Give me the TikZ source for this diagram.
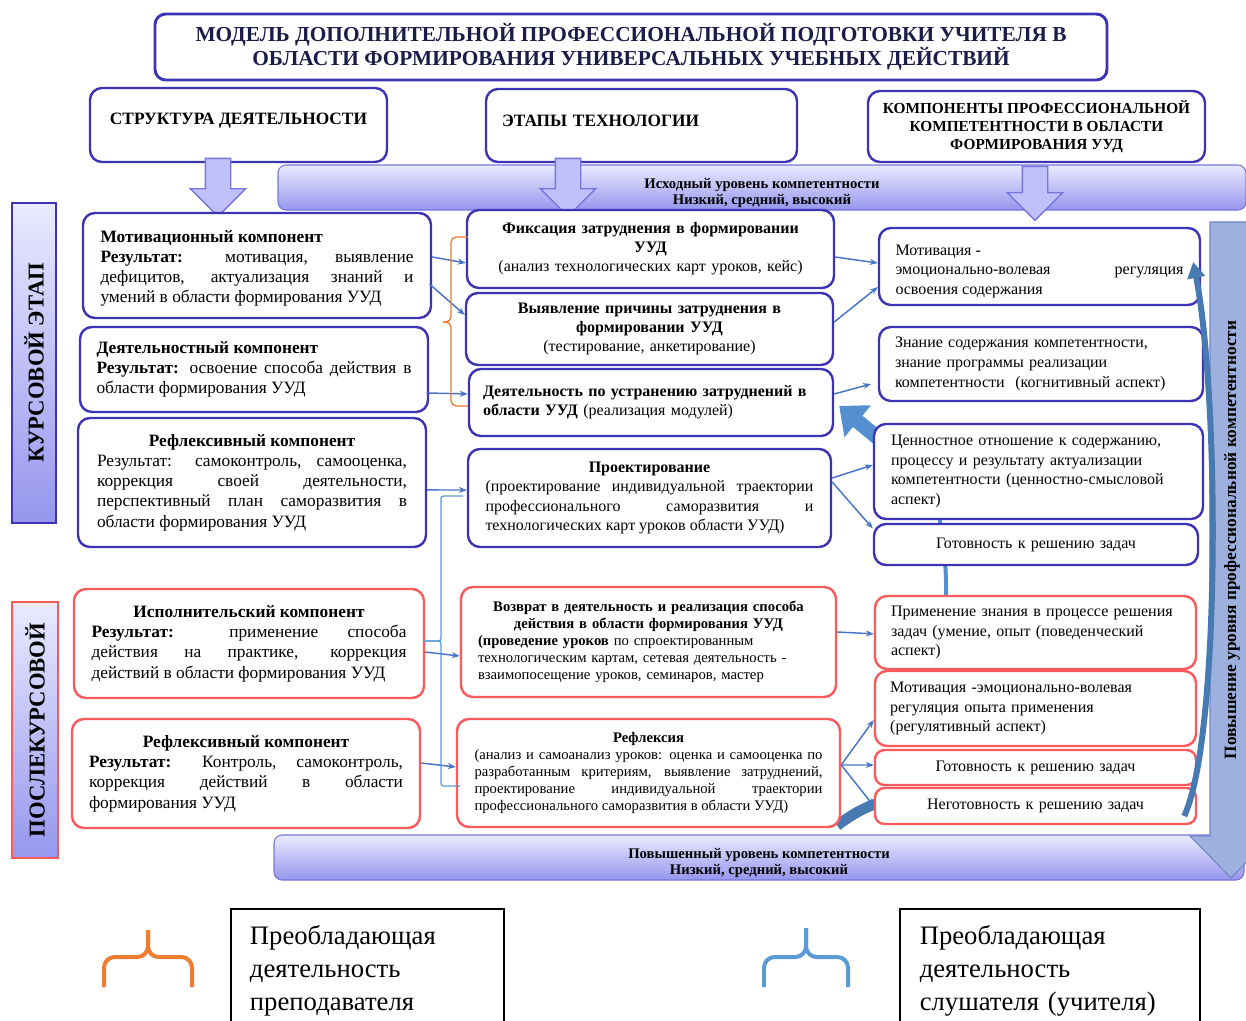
\documentclass[tikz,border=0pt]{standalone}
\usepackage{fontspec}
\setmainfont{Liberation Serif}
\usepackage{graphicx}
\usetikzlibrary{arrows.meta,shapes.arrows}
\pgfdeclarelayer{background}
\pgfsetlayers{background,main}
\setlength{\parindent}{0pt}
\tolerance=9999
\hbadness=10000
\hfuzz=2pt
\newcommand\headline[1]{\leavevmode\hbox to\hsize{\hss\textbf{#1}\hss}}

\definecolor{boxblue}{RGB}{60,52,180}
\definecolor{boxred}{RGB}{250,90,92}
\definecolor{lavlight}{RGB}{234,234,255}
\definecolor{lavdark}{RGB}{150,150,238}
\definecolor{lavfill}{RGB}{192,192,250}
\definecolor{lavline}{RGB}{118,118,222}
\definecolor{linkblue}{RGB}{70,116,200}
\definecolor{braceorange}{RGB}{237,125,49}
\definecolor{braceblue}{RGB}{91,155,213}
\definecolor{barblue}{RGB}{158,176,222}
\definecolor{barline}{RGB}{112,134,196}
\definecolor{swooshblue}{RGB}{72,122,178}
\definecolor{broadblue}{RGB}{84,144,208}
\definecolor{titlenavy}{RGB}{28,28,72}

\tikzset{
  roundbox/.style={line width=1.8pt, rounded corners=9pt, fill=white, inner sep=0pt},
  bluebox/.style={roundbox, draw=boxblue},
  redbox/.style={roundbox, draw=boxred},
  boxsize/.style n args={3}{minimum width=#1pt, minimum height=#2pt, text width=#3pt},
  leftfont/.style={font=\fontsize{13}{15.2}\selectfont},
  midfont/.style={font=\fontsize{12}{14.3}\selectfont},
  smallfont/.style={font=\fontsize{11}{12.75}\selectfont},
  rightfont/.style={font=\fontsize{12}{14.8}\selectfont},
  headbox/.style={bluebox, font=\bfseries\fontsize{13}{15}\selectfont},
  lavband/.style={draw=lavline, line width=0.8pt, rounded corners=6pt, top color=lavlight, bottom color=lavdark, inner sep=0pt, align=center, text height=27.5pt, font=\bfseries\fontsize{11}{12}\selectfont},
  stagebar/.style={line width=1.2pt, top color=lavlight, bottom color=lavdark, inner sep=0pt, font=\bfseries\fontsize{17}{17}\selectfont},
  downarrow/.style={single arrow, rotate=-90, draw=lavline, fill=lavfill, line width=1pt, inner xsep=0pt, inner ysep=9pt, single arrow head extend=11.25pt},
  link/.style={->, draw=linkblue, line width=1.1pt},
  broad/.style={draw=broadblue},
  swoosh/.style={draw=swooshblue, fill=none},
  legbrace/.style={line width=3pt, rounded corners=8pt},
  legbox/.style={draw=black, line width=1.2pt, anchor=north west, minimum height=93pt, align=left, inner sep=0pt, font=\fontsize{20}{24.75}\selectfont},
}

\begin{document}
\begin{tikzpicture}[x=0.75pt, y=-0.75pt, >={Stealth[length=6pt,width=4.5pt]}]
\useasboundingbox (0,0) rectangle (1246,1021);

% heading and column headers
\node[bluebox, line width=2.2pt, rounded corners=8pt, minimum width=714pt, minimum height=49.5pt, align=center, text=titlenavy, font=\bfseries\fontsize{16}{18}\selectfont] (title) at (631,47)
  {МОДЕЛЬ ДОПОЛНИТЕЛЬНОЙ ПРОФЕССИОНАЛЬНОЙ ПОДГОТОВКИ УЧИТЕЛЯ В\\ОБЛАСТИ ФОРМИРОВАНИЯ УНИВЕРСАЛЬНЫХ УЧЕБНЫХ ДЕЙСТВИЙ};
\node[headbox, minimum width=222.75pt, minimum height=55.5pt, text depth=10pt] (hStruct) at (238.5,125) {СТРУКТУРА ДЕЯТЕЛЬНОСТИ};
\node[headbox, minimum width=233.25pt, minimum height=54.75pt, text width=209pt, align=left, text depth=7pt] (hStage) at (641.5,125.5) {ЭТАПЫ ТЕХНОЛОГИИ};
\node[headbox, minimum width=252.75pt, minimum height=53.25pt, align=center, font=\bfseries\fontsize{11.5}{13.5}\selectfont] (hComp) at (1036.5,126.5)
  {КОМПОНЕНТЫ ПРОФЕССИОНАЛЬНОЙ\\КОМПЕТЕНТНОСТИ В ОБЛАСТИ\\ФОРМИРОВАНИЯ УУД};

% level bands and stage bars
\node[lavband, minimum width=726pt, minimum height=33.75pt] (levelIn) at (762,187.5) {Исходный уровень компетентности\\Низкий, средний, высокий};
\node[lavband, minimum width=727.5pt, minimum height=33.75pt] (levelOut) at (759,857.5) {Повышенный уровень компетентности\\Низкий, средний, высокий};
\node[stagebar, draw=boxblue, minimum width=33pt, minimum height=240pt] (stCourse) at (34,363) {\rotatebox{90}{КУРСОВОЙ ЭТАП}};
\node[stagebar, draw=boxred, minimum width=34.5pt, minimum height=192pt] (stPost) at (35,730) {\rotatebox{90}{ПОСЛЕКУРСОВОЙ}};

% growth bar on the right
\path[draw=barline, fill=barblue, line width=0.8pt] (1210,222) -- (1252,222) -- (1252,836) -- (1272,836) -- (1231,878) -- (1190,836) -- (1210,836) -- cycle;
\node[font=\bfseries\fontsize{13}{13}\selectfont] (growText) at (1232,540) {\rotatebox{90}{Повышение уровня профессиональной компетентности}};

% block arrows under the headers
\node[downarrow, minimum height=43.5pt] (arrStruct) at (218,181) {};
\node[downarrow, minimum height=43.5pt] (arrStage) at (568,181) {};
\node[downarrow, minimum height=40.5pt] (arrComp) at (1035,187) {};

% structure of activity
\node[bluebox, leftfont, boxsize={261}{78.75}{234.75}, align=justify, text depth=44pt] (cMot) at (257,265.5)
  {\textbf{Мотивационный компонент}\\\textbf{Результат:} мотивация, выявление\linebreak дефицитов, актуализация знаний и\linebreak умений в области формирования УУД};
\node[bluebox, leftfont, boxsize={261}{63.75}{236.25}, align=justify] (cAct) at (254,369.5)
  {\textbf{Деятельностный компонент}\\\textbf{Результат:} освоение способа действия в\linebreak области формирования УУД};
\node[bluebox, leftfont, boxsize={261}{96.75}{232.5}, align=justify] (cRefl) at (252,482.5)
  {\headline{Рефлексивный компонент}\\ Результат: самоконтроль, самооценка,\linebreak коррекция своей деятельности,\linebreak перспективный план саморазвития в\linebreak области формирования УУД};
\node[redbox, leftfont, boxsize={262.5}{81.75}{236.25}, align=justify] (cExec) at (249,643.5)
  {\headline{Исполнительский компонент}\\ \textbf{Результат:} применение способа\linebreak действия на практике, коррекция\linebreak действий в области формирования УУД};
\node[redbox, leftfont, boxsize={261}{81.75}{235.5}, align=justify] (cRefl2) at (246,773.5)
  {\headline{Рефлексивный компонент}\\ \textbf{Результат:} Контроль, самоконтроль,\linebreak коррекция действий в области\linebreak формирования УУД};

% stages of the technology
\node[bluebox, midfont, boxsize={275.25}{58.5}{255}, align=center] (sFix) at (650.5,249)
  {\textbf{Фиксация затруднения в формировании}\\\textbf{УУД}\\(анализ технологических карт уроков, кейс)};
\node[bluebox, midfont, boxsize={275.25}{54}{255}, align=center] (sCause) at (649.5,329)
  {\textbf{Выявление причины затруднения в}\\\textbf{формировании УУД}\\(тестирование, анкетирование)};
\node[bluebox, midfont, boxsize={273}{50.25}{252}, align=left] (sRemove) at (651,402.5)
  {\textbf{Деятельность по устранению затруднений в}\\\textbf{области УУД} (реализация модулей)};
\node[bluebox, midfont, boxsize={272.25}{73.5}{246}, align=justify] (sDesign) at (649.5,498)
  {\headline{Проектирование}\\ (проектирование индивидуальной траектории\linebreak профессионального саморазвития и\linebreak технологических карт уроков области УУД)};
\node[redbox, smallfont, boxsize={281.25}{82.5}{255.75}, align=left] (sReturn) at (648.5,642)
  {\headline{Возврат в деятельность и реализация способа}\\ \headline{действия в области формирования УУД}\\ \textbf{(проведение уроков} по спроектированным\\ технологическим картам, сетевая деятельность -\\ взаимопосещение уроков, семинаров, мастер};
\node[redbox, smallfont, boxsize={287.25}{81}{261}, align=justify] (sReflect) at (648.5,773)
  {\headline{Рефлексия}\\ (анализ и самоанализ уроков: оценка и самооценка по\linebreak разработанным критериям, выявление затруднений,\linebreak проектирование индивидуальной траектории\linebreak профессионального саморазвития в области УУД)};

% components of competence
\node[bluebox, rightfont, boxsize={240.75}{57.75}{216}, align=justify, text depth=25pt] (kMotiv) at (1039.5,266.5)
  {Мотивация -\\эмоционально-волевая\hfill регуляция\\освоения содержания};
\node[bluebox, rightfont, boxsize={243}{55.5}{219}, align=left] (kKnow) at (1041,364)
  {Знание содержания компетентности,\\знание программы реализации\\компетентности \ (когнитивный аспект)};
\node[bluebox, rightfont, boxsize={246.75}{71.25}{221.25}, align=left] (kValue) at (1038.5,471.5)
  {Ценностное отношение к содержанию,\\процессу и результату актуализации\\компетентности (ценностно-смысловой\\аспект)};
\node[bluebox, rightfont, boxsize={243}{30.75}{219}, align=center] (kReady) at (1036,544.5) {Готовность к решению задач};
\node[redbox, rightfont, boxsize={240.75}{54.75}{216.75}, align=left] (kApply) at (1035.5,632.5)
  {Применение знания в процессе решения\\задач (умение, опыт (поведенческий\\аспект)};
\node[redbox, rightfont, boxsize={240.75}{56.25}{218}, align=left] (kRegul) at (1035.5,708.5)
  {Мотивация -эмоционально-волевая\\регуляция опыта применения\\(регулятивный аспект)};
\node[redbox, rightfont, rounded corners=7pt, boxsize={240.75}{26.25}{216}, align=center] (kReady2) at (1035.5,767.5) {Готовность к решению задач};
\node[redbox, rightfont, rounded corners=7pt, boxsize={240.75}{27}{216}, align=center] (kUnready) at (1035.5,806) {Неготовность к решению задач};

% broad arrow and long arrow tail, behind the blocks
\coordinate (chunkBend) at (890,448);
\begin{pgfonlayer}{background}
  \draw[broad, line width=3pt] ([xshift=-67pt]kApply.north) .. controls (946,500) and (925,462) .. (chunkBend);
  \draw[broad, line width=11pt, -{Triangle[length=18pt,width=30pt]}] (chunkBend) -- ([xshift=3.75pt,yshift=-2.6pt]sRemove.east);
  \draw[swoosh, line width=8pt] ([xshift=-3pt,yshift=2pt]sReflect.south east) .. controls (860,808) and (880,800) .. (910,796);
\end{pgfonlayer}

% links from structure to stages
\draw[link] ([yshift=6.4pt]cMot.east) -- ([yshift=-10.5pt]sFix.west);
\draw[link] ([xshift=-2pt,yshift=-13.9pt]cMot.east) -- ([yshift=10.5pt]sCause.west);
\draw[link] ([xshift=-2pt,yshift=-17.6pt]cAct.east) -- ([yshift=6.4pt]sRemove.west);
\draw[link] ([yshift=-5.6pt]cRefl.east) -- ([yshift=6pt]sDesign.west);
\draw[link] ([yshift=-6.4pt]cExec.east) -- ([yshift=-10.5pt]sReturn.west);
\draw[link] ([yshift=7.9pt]cRefl2.east) -- ([yshift=4.5pt]sReflect.west);

% links from stages to components
\draw[link] ([yshift=-6pt]sFix.east) -- ([yshift=2.6pt]kMotiv.west);
\draw[link] ([yshift=5.25pt]sCause.east) -- ([yshift=-15.4pt]kMotiv.west);
\draw[link] ([yshift=6.4pt]sRemove.east) -- ([xshift=-5pt,yshift=-15pt]kKnow.west);
\draw[link] ([yshift=15pt]sDesign.east) -- ([yshift=4.9pt]kValue.west);
\draw[link] ([yshift=12pt]sDesign.east) -- ([yshift=12pt]kReady.west);
\draw[link] ([yshift=7.5pt]sReturn.east) -- ([yshift=-1pt]kApply.west);
\draw[link] ([yshift=6pt]sReflect.east) -- ([yshift=-8.6pt]kRegul.west);
\draw[link] ([yshift=6pt]sReflect.east) -- ([yshift=1.9pt]kReady2.west);
\draw[link] ([yshift=6pt]sReflect.east) -- (kUnready.west);

% long arrow up to the first component
\draw[swoosh, line width=4.5pt, -{Triangle[length=12pt,width=13pt]}] ([xshift=-9.75pt,yshift=-7.5pt]kUnready.east) .. controls (1220,740) and (1220,400) .. ([xshift=-6pt,yshift=3.4pt]kMotiv.east);

% grouping braces
\draw[braceorange, line width=1pt, rounded corners=4pt] (468,237) -- (451,237) -- (451,322) -- (443,322);
\draw[braceorange, line width=1pt, rounded corners=4pt] (468,406) -- (451,406) -- (451,322) -- (443,322);
\draw[braceblue, line width=1pt, rounded corners=2pt] (463,496) -- (441,496) -- (441,641) -- (424,641);
\draw[braceblue, line width=1pt, rounded corners=2pt] (460,786) -- (441,786) -- (441,641) -- (424,641);

% legend
\draw[legbrace, braceorange] (104,987) -- (104,957) -- (148,957) -- (148,930);
\draw[legbrace, braceorange] (192,987) -- (192,957) -- (148,957) -- (148,930);
\node[legbox, minimum width=204.75pt, text width=176pt] (legTeacher) at (230,908) {Преобладающая\\деятельность\\преподавателя};
\draw[legbrace, braceblue] (764,987) -- (764,957) -- (806,957) -- (806,928);
\draw[legbrace, braceblue] (848,987) -- (848,957) -- (806,957) -- (806,928);
\node[legbox, minimum width=225pt, text width=195pt] (legListener) at (899,908) {Преобладающая\\деятельность\\слушателя (учителя)};
\end{tikzpicture}
\end{document}
